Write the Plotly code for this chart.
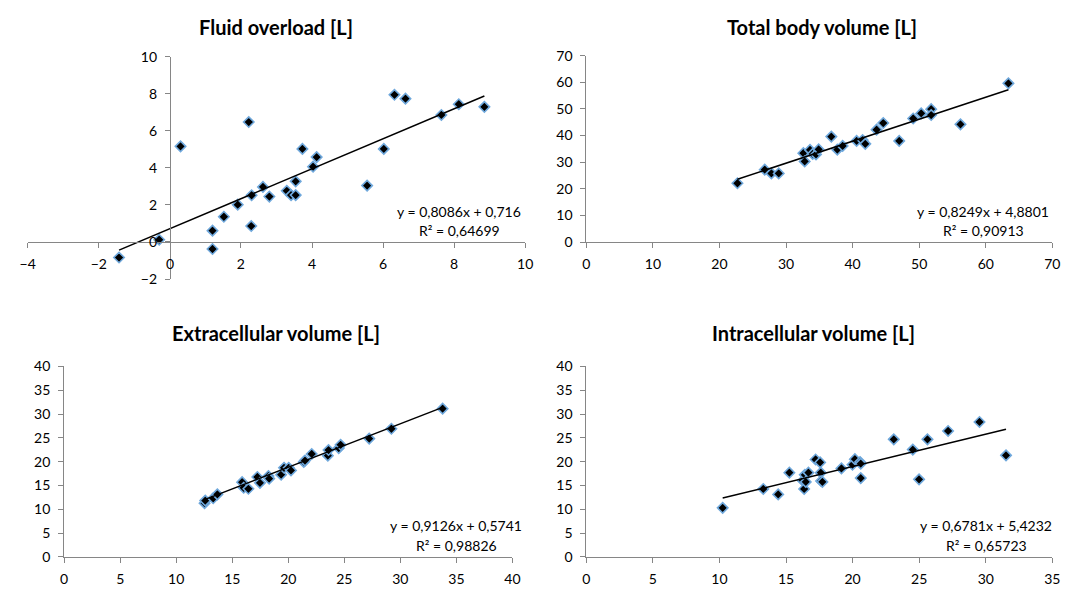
import plotly.graph_objects as go

W, H = 1083, 593

# ---------------- data ----------------
titles = ["Fluid overload [L]", "Total body volume [L]",
          "Extracellular volume [L]", "Intracellular volume [L]"]

fo_x = [-1.43, -0.30, 0.30, 1.20, 1.20, 1.52, 1.91, 2.22, 2.30, 2.29, 2.62, 2.80, 3.29,
        3.41, 3.54, 3.54, 3.73, 4.03, 4.13, 5.55, 6.02, 6.32, 6.63, 7.64, 8.13, 8.85]
fo_y = [-0.84, 0.12, 5.16, 0.61, -0.38, 1.36, 2.01, 6.47, 2.52, 0.86, 2.97, 2.45, 2.76,
        2.53, 2.53, 3.27, 5.02, 4.06, 4.58, 3.04, 5.02, 7.94, 7.73, 6.85, 7.43, 7.29]

tbv_x = [22.7, 26.8, 27.8, 28.9, 32.6, 32.8, 33.6, 34.0, 34.5, 34.9, 36.8, 37.7, 38.5,
         40.6, 41.5, 41.9, 43.6, 44.6, 47.0, 49.1, 50.3, 51.8, 51.8, 56.2, 63.4]
tbv_y = [22.1, 27.2, 25.8, 25.8, 33.4, 30.3, 34.6, 33.1, 32.9, 34.8, 39.6, 34.7, 36.1,
         38.0, 38.3, 36.9, 42.2, 44.7, 38.0, 46.4, 48.3, 49.9, 47.7, 44.2, 59.6]

ecv_x = [12.53, 12.59, 13.30, 13.67, 15.88, 16.02, 16.44, 17.24, 17.47, 18.23, 18.29,
         19.36, 19.62, 20.04, 20.24, 21.38, 21.49, 22.09, 23.53, 23.59, 24.50, 24.67,
         27.22, 29.20, 33.77]
ecv_y = [11.27, 11.82, 12.30, 13.13, 15.68, 14.51, 14.30, 16.78, 15.54, 16.99, 16.44,
         17.26, 18.71, 18.71, 18.16, 19.95, 20.23, 21.61, 21.26, 22.44, 22.85, 23.54,
         24.85, 26.91, 31.13]

icv_x = [10.24, 13.29, 14.41, 15.25, 16.26, 16.36, 16.41, 16.48, 16.68, 17.22, 17.56,
         17.61, 17.63, 17.73, 19.16, 19.99, 20.17, 20.56, 20.61, 20.61, 23.09, 24.52,
         24.99, 25.62, 27.17, 29.53, 31.52]
icv_y = [10.29, 14.26, 13.12, 17.69, 16.01, 14.26, 17.22, 15.74, 17.69, 20.45, 19.84,
         17.69, 15.94, 15.74, 18.57, 19.37, 20.52, 19.91, 19.58, 16.55, 24.69, 22.53,
         16.28, 24.69, 26.44, 28.33, 21.33]

slopes = [0.8086, 0.8249, 0.9126, 0.6781]
intercepts = [0.716, 4.8801, 0.5741, 5.4232]
eq_labels = ["y = 0,8086x + 0,716", "y = 0,8249x + 4,8801",
             "y = 0,9126x + 0,5741", "y = 0,6781x + 5,4232"]
r2_labels = ["R² = 0,64699", "R² = 0,90913", "R² = 0,98826", "R² = 0,65723"]

x_ranges = [(-4, 10, 2), (0, 70, 10), (0, 40, 5), (0, 35, 5)]
y_ranges = [(-2, 10, 2), (0, 70, 10), (0, 40, 5), (0, 40, 5)]

series_x = [fo_x, tbv_x, ecv_x, icv_x]
series_y = [fo_y, tbv_y, ecv_y, icv_y]

# ---------------- layout geometry (pixels) ----------------
boxes = [(20, 525, 49, 278), (587, 1060, 48, 240), (57, 512, 368, 564), (587, 1060, 368, 564)]
title_pos = [(272, 19), (826, 19), (272, 334), (818, 334)]
eq_pos = [(458, 208, 228), (990, 208, 228), (455, 532, 552), (993, 532, 552)]


def fx(p):
    return p / W


def fy(p):
    return 1 - p / H


FONT = "Lato"
AXCOL = "#868686"

fig = go.Figure()
layout = dict(
    width=W, height=H, margin=dict(l=0, r=0, t=0, b=0),
    paper_bgcolor="white", plot_bgcolor="white", showlegend=False,
    font=dict(family=FONT, size=14, color="#000000"),
    annotations=[],
)

for i in range(4):
    xs, ys = series_x[i], series_y[i]
    ax = "" if i == 0 else str(i + 1)
    xa, ya = "x" + ax, "y" + ax
    x0, x1, y0, y1 = boxes[i]
    xr0, xr1, xd = x_ranges[i]
    yr0, yr1, yd = y_ranges[i]

    fig.add_trace(go.Scatter(
        x=xs, y=ys, mode="markers", xaxis=xa, yaxis=ya,
        marker=dict(symbol="diamond", size=8, color="black",
                    line=dict(color="#6FA8DC", width=1.6)),
        hoverinfo="x+y"))
    lo, hi = min(xs), max(xs)
    fig.add_trace(go.Scatter(
        x=[lo, hi], y=[slopes[i] * lo + intercepts[i], slopes[i] * hi + intercepts[i]],
        mode="lines", xaxis=xa, yaxis=ya, line=dict(color="black", width=1.5),
        hoverinfo="skip"))

    dom_x = [fx(x0), fx(x1)]
    dom_y = [fy(y1), fy(y0)]

    xaxis = dict(domain=dom_x, range=[xr0, xr1], dtick=xd, tick0=0,
                 showgrid=False, zeroline=False, showline=True, linecolor=AXCOL,
                 linewidth=1, ticks="outside", ticklen=5, tickcolor=AXCOL,
                 ticklabelstandoff=4,
                 tickfont=dict(family=FONT, size=14, color="#000000"))
    yaxis = dict(domain=dom_y, range=[yr0, yr1], dtick=yd, tick0=0,
                 showgrid=False, zeroline=False, showline=True, linecolor=AXCOL,
                 linewidth=1, ticks="outside", ticklen=5, tickcolor=AXCOL,
                 ticklabelstandoff=5,
                 tickfont=dict(family=FONT, size=14, color="#000000"))
    if xr0 < 0 or yr0 < 0:
        # axes cross at zero
        ypos0 = dom_y[0] + (0 - yr0) / (yr1 - yr0) * (dom_y[1] - dom_y[0])
        xpos0 = dom_x[0] + (0 - xr0) / (xr1 - xr0) * (dom_x[1] - dom_x[0])
        xticks = [v for v in range(xr0, xr1 + 1, xd) if v != 0]
        xaxis.update(anchor="free", position=ypos0, tickmode="array", tickvals=xticks)
        yaxis.update(anchor="free", position=xpos0)
        # x tick label "0" sits on the vertical axis at the crossing
        layout["annotations"].append(dict(
            text="0", x=0, y=0, xref=xa, yref=ya, xanchor="center", yanchor="middle",
            yshift=-22, showarrow=False,
            font=dict(family=FONT, size=14, color="#000000")))
    else:
        xaxis.update(anchor=ya)
        yaxis.update(anchor=xa)
    layout["xaxis" + ax] = xaxis
    layout["yaxis" + ax] = yaxis

    tx, ty = title_pos[i]
    layout["annotations"].append(dict(
        text="<b>" + titles[i] + "</b>", x=fx(tx), y=fy(ty), xref="paper", yref="paper",
        xanchor="center", yanchor="middle", showarrow=False,
        font=dict(family=FONT, size=20, color="#000000")))
    ex, ey1, ey2 = eq_pos[i]
    layout["annotations"].append(dict(
        text=eq_labels[i], x=fx(ex), y=fy(ey1), xref="paper", yref="paper",
        xanchor="center", yanchor="middle", showarrow=False,
        font=dict(family=FONT, size=14, color="#000000")))
    layout["annotations"].append(dict(
        text=r2_labels[i], x=fx(ex), y=fy(ey2), xref="paper", yref="paper",
        xanchor="center", yanchor="middle", showarrow=False,
        font=dict(family=FONT, size=14, color="#000000")))

fig.update_layout(**layout)
fig.write_html("out.html",
               config={"displayModeBar": False},
               post_script="document.body.style.margin='0';document.body.style.overflow='hidden';")
